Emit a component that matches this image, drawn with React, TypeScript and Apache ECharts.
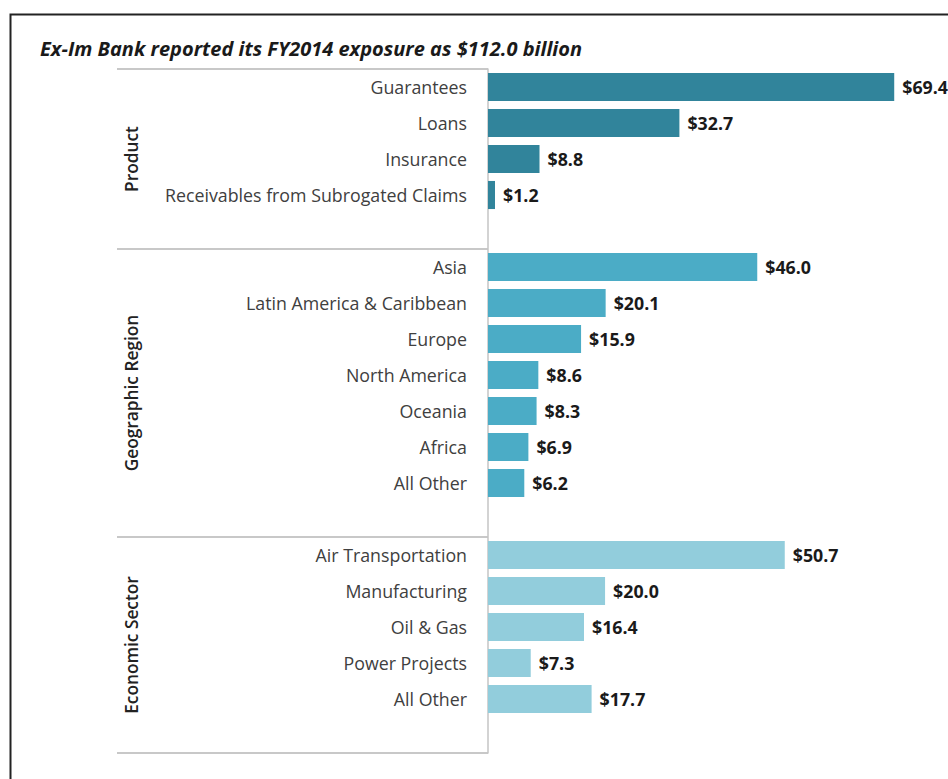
import React, { useEffect, useRef } from "react";
import * as echarts from "echarts";

const titleText = "Ex-Im Bank reported its FY2014 exposure as $112.0 billion";
const groupNames = ["Product", "Geographic Region", "Economic Sector"];
const productCats = ["Guarantees", "Loans", "Insurance", "Receivables from Subrogated Claims"];
const productVals = [69.4, 32.7, 8.8, 1.2];
const regionCats = ["Asia", "Latin America & Caribbean", "Europe", "North America", "Oceania", "Africa", "All Other"];
const regionVals = [46.0, 20.1, 15.9, 8.6, 8.3, 6.9, 6.2];
const sectorCats = ["Air Transportation", "Manufacturing", "Oil & Gas", "Power Projects", "All Other"];
const sectorVals = [50.7, 20.0, 16.4, 7.3, 17.7];
const groupColors = ["#31849B", "#4BACC6", "#92CDDC"];

const FONT = "'Open Sans', sans-serif";

export default function App() {
  const ref = useRef<HTMLDivElement>(null);
  useEffect(() => {
    if (!ref.current) return;
    const chart = echarts.init(ref.current, undefined, { renderer: "svg" });
    const groups = [
      { cats: productCats, vals: productVals },
      { cats: regionCats, vals: regionVals },
      { cats: sectorCats, vals: sectorVals },
    ];
    const categories: string[] = [];
    const data: any[] = [];
    const ranges: { start: number; end: number }[] = [];
    groups.forEach((g, gi) => {
      const start = categories.length;
      g.cats.forEach((c, i) => {
        categories.push(c);
        data.push({ value: g.vals[i], itemStyle: { color: groupColors[gi] } });
      });
      categories.push("");
      data.push({ value: null });
      ranges.push({ start, end: categories.length - 1 });
    });

    const gridLeft = 488;
    chart.setOption({
      animation: false,
      backgroundColor: "#ffffff",
      title: {
        text: titleText,
        left: 35,
        top: 33,
        textStyle: {
          fontFamily: FONT,
          fontSize: 20,
          fontWeight: "bold",
          fontStyle: "italic",
          color: "#1a1a1a",
        },
      },
      grid: { left: gridLeft, right: 21, top: 69, bottom: 26, containLabel: false },
      xAxis: {
        type: "value",
        min: 0,
        max: 75,
        show: false,
      },
      yAxis: {
        type: "category",
        inverse: true,
        data: categories,
        axisLine: { show: true, lineStyle: { color: "#c4c4c4", width: 1.5 } },
        axisTick: { show: false },
        axisLabel: {
          interval: 0,
          margin: 21,
          color: "#404040",
          fontFamily: FONT,
          fontSize: 17.8,
        },
      },
      series: [
        {
          type: "bar",
          data,
          barCategoryGap: "22%",
          label: {
            show: true,
            position: "right",
            distance: 8,
            fontFamily: FONT,
            fontSize: 17.8,
            fontWeight: "bold",
            color: "#1a1a1a",
            formatter: (p: any) => (p.value == null ? "" : "$" + Number(p.value).toFixed(1)),
          },
        },
      ],
    });

    const p0 = chart.convertToPixel({ yAxisIndex: 0 }, 0) as number;
    const p1 = chart.convertToPixel({ yAxisIndex: 0 }, 1) as number;
    const bw = Math.abs(p1 - p0);
    const graphics: any[] = [
      {
        type: "rect",
        shape: { x: 10.5, y: 14.5, width: 1000, height: 1000 },
        style: { fill: "none", stroke: "#222222", lineWidth: 2 },
        silent: true,
      },
    ];
    ranges.forEach((r, i) => {
      const top = (chart.convertToPixel({ yAxisIndex: 0 }, r.start) as number) - bw / 2;
      const bottom = (chart.convertToPixel({ yAxisIndex: 0 }, r.end) as number) + bw / 2;
      if (i === 0) {
        graphics.push({
          type: "line",
          shape: { x1: 117, y1: top, x2: gridLeft, y2: top },
          style: { stroke: "#c8c8c8", lineWidth: 2 },
        });
      }
      graphics.push({
        type: "line",
        shape: { x1: 117, y1: bottom, x2: gridLeft, y2: bottom },
        style: { stroke: "#c8c8c8", lineWidth: 2 },
      });
      graphics.push({
        type: "text",
        x: 131,
        y: (top + bottom) / 2,
        rotation: Math.PI / 2,
        style: {
          text: groupNames[i],
          align: "center",
          verticalAlign: "middle",
          fontFamily: FONT,
          fontSize: 17.3,
          fontWeight: 600,
          fill: "#222222",
        },
      });
    });
    chart.setOption({ graphic: graphics });

    return () => chart.dispose();
  }, []);
  return (
    <div
      ref={ref}
      style={{ position: "absolute", left: 0, top: 0, width: 948, height: 779, background: "#fff" }}
    />
  );
}
